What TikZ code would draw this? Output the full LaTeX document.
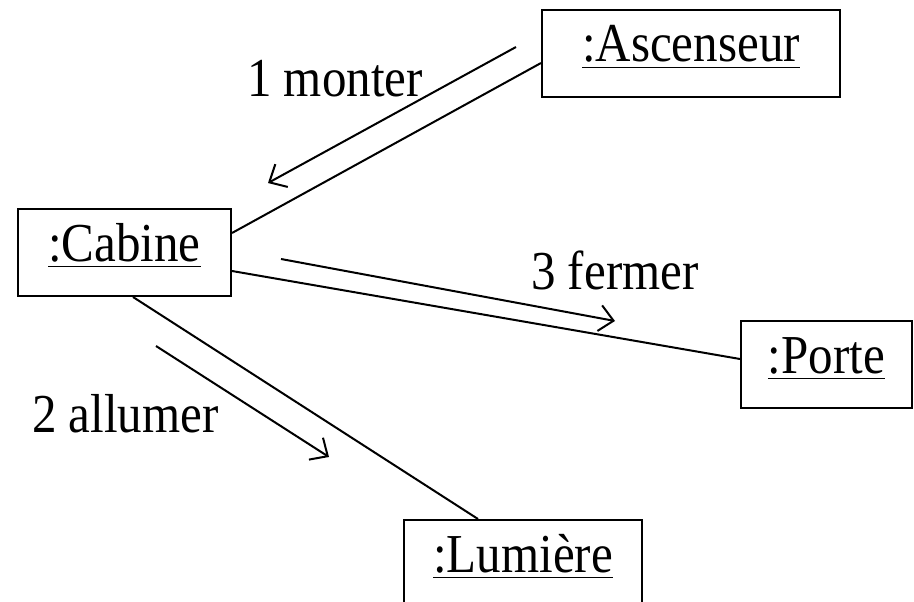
\documentclass[tikz,border=0pt]{standalone}
\usepackage{fontspec}
\usepackage{graphicx}
\setmainfont{Liberation Serif}
\usetikzlibrary{arrows.meta}

% nom d'objet souligne, un peu etire en hauteur
\newcommand{\nomobj}[1]{\scalebox{1}[1.12]{\underline{#1\rule[-3pt]{0pt}{3pt}}}}
\newcommand{\txt}[1]{\scalebox{1}[1.12]{#1}}

\begin{document}
\begin{tikzpicture}[x=1pt,y=-1pt,
    every node/.style={font=\fontsize{49}{60}\selectfont},
    objet/.style={draw,line width=2pt,inner sep=0pt,text height=52pt,text depth=35pt,minimum height=87pt},
    lien/.style={line width=2pt},
    msg/.style={line width=2pt,-{Straight Barb[length=14pt,width=26pt]}}]
  \useasboundingbox (0,0) rectangle (914,602);
  % objets
  \node[objet,minimum width=298pt] (asc) at (691,53.5) {\nomobj{:Ascenseur}};
  \node[objet,minimum width=213pt] (cab) at (124.5,252.5) {\nomobj{:Cabine}};
  \node[objet,minimum width=171pt] (porte) at (826.5,364.5) {\nomobj{:Porte}};
  \node[objet,minimum width=238pt] (lum) at (523,563.5) {\nomobj{:Lumière}};
  % liens
  \draw[lien] ([yshift=19.5pt]cab.east) -- ([yshift=-9.5pt]asc.west);
  \draw[lien] ([yshift=-18.5pt]cab.east) -- ([yshift=5.5pt]porte.west);
  \draw[lien] ([xshift=8.5pt]cab.south) -- ([xshift=-45pt]lum.north);
  % messages
  \coordinate (m1a) at (516,47);  \coordinate (m1b) at (268,183);
  \coordinate (m2a) at (156,346); \coordinate (m2b) at (329,457);
  \coordinate (m3a) at (281,259); \coordinate (m3b) at (615,321);
  \draw[msg] (m1a) -- (m1b);
  \draw[msg] (m2a) -- (m2b);
  \draw[msg] (m3a) -- (m3b);
  \node[anchor=base west,inner sep=0pt] (l1) at (247,97) {\txt{1 monter}};
  \node[anchor=base west,inner sep=0pt] (l2) at (32,432) {\txt{2 allumer}};
  \node[anchor=base west,inner sep=0pt] (l3) at (531,289) {\txt{3 fermer}};
\end{tikzpicture}
\end{document}
